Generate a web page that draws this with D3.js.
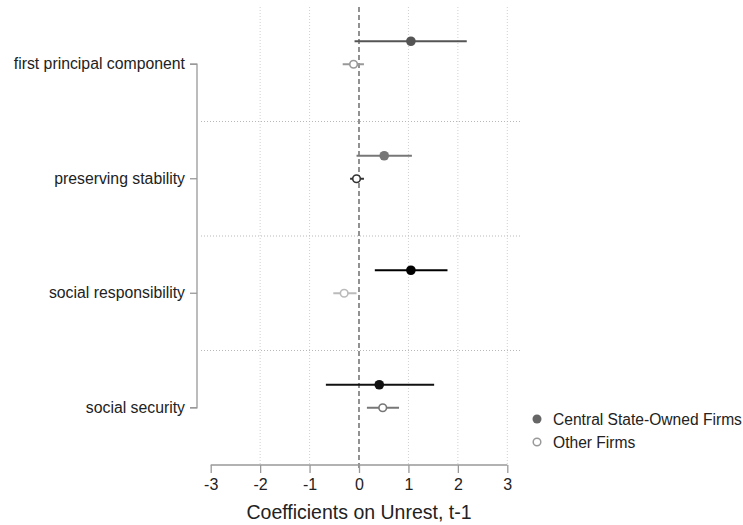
<!DOCTYPE html>
<html>
<head>
<meta charset="utf-8">
<script src="https://cdn.jsdelivr.net/npm/d3@7"></script>
<style>
  body { margin: 0; background: #fff; font-family: Arial, "Liberation Sans", sans-serif; }
</style>
</head>
<body>
<div id="chart"></div>
<script>
// outcome categories, top to bottom
const outcomes = ["first principal component", "preserving stability", "social responsibility", "social security"];

// Central State-Owned Firms: estimate, lower CI, upper CI
const centralCoef = [1.05, 0.51, 1.05, 0.41];
const centralLo = [-0.09, -0.05, 0.32, -0.67];
const centralHi = [2.18, 1.07, 1.79, 1.52];

// Other Firms
const otherCoef = [-0.11, -0.05, -0.30, 0.48];
const otherLo = [-0.33, -0.18, -0.52, 0.16];
const otherHi = [0.10, 0.10, -0.05, 0.81];

// shades per outcome (as in the original figure)
const centralColor = ["#555555", "#777777", "#000000", "#111111"];
const otherColor = ["#999999", "#333333", "#bbbbbb", "#777777"];

const xTicks = [-3, -2, -1, 0, 1, 2, 3];
const legendLabels = ["Central State-Owned Firms", "Other Firms"];

const W = 743, H = 525;
const svg = d3.select("#chart").append("svg").attr("width", W).attr("height", H);

const x = d3.scaleLinear().domain([-3, 3]).range([210.7, 507.3]);
const y = d3.scaleBand().domain(outcomes).range([7, 465]);
const mid = d => y(d) + y.bandwidth() / 2;
const plotLeft = 201, plotRight = 520;

// vertical dotted grid
svg.append("g")
  .selectAll("line")
  .data(xTicks.filter(t => t !== 0 && t !== -3))
  .join("line")
  .attr("x1", d => x(d)).attr("x2", d => x(d))
  .attr("y1", 7).attr("y2", 465)
  .attr("stroke", "#d0d0d0").attr("stroke-width", 1)
  .attr("stroke-dasharray", "1,2");

// horizontal separators between outcomes
svg.append("g")
  .selectAll("line")
  .data(outcomes.slice(1))
  .join("line")
  .attr("x1", plotLeft).attr("x2", plotRight)
  .attr("y1", d => y(d)).attr("y2", d => y(d))
  .attr("stroke", "#b8b8b8").attr("stroke-width", 1)
  .attr("stroke-dasharray", "1,2");

// zero reference line
svg.append("line")
  .attr("x1", x(0)).attr("x2", x(0))
  .attr("y1", 7).attr("y2", 470)
  .attr("stroke", "#777").attr("stroke-width", 1.6)
  .attr("stroke-dasharray", "5,3");

// x axis
const xAxis = svg.append("g")
  .attr("transform", "translate(0,465)")
  .call(d3.axisBottom(x).tickValues(xTicks).tickSize(8).tickPadding(6).tickFormat(d => String(d)));
xAxis.select(".domain").attr("stroke", "#999").attr("stroke-width", 1.3).attr("d", `M${x(-3)},0H${x(3)}`);
xAxis.selectAll(".tick line").attr("stroke", "#999").attr("stroke-width", 1.3);
xAxis.selectAll("text").attr("fill", "#222").style("font-size", "16px").style("font-family", "Arial, 'Liberation Sans', sans-serif");

svg.append("text")
  .attr("x", x(0)).attr("y", 519)
  .attr("text-anchor", "middle")
  .attr("fill", "#222")
  .style("font-size", "19.5px")
  .text("Coefficients on Unrest, t-1");

// y axis (bracket style)
const yAxis = svg.append("g")
  .attr("transform", "translate(197,0)")
  .call(d3.axisLeft(y).tickSize(7).tickPadding(5));
yAxis.select(".domain").attr("stroke", "#999").attr("stroke-width", 1.3)
  .attr("d", `M-7,${mid(outcomes[0])}H0V${mid(outcomes[3])}H-7`);
yAxis.selectAll(".tick line").attr("stroke", "#999").attr("stroke-width", 1.3);
yAxis.selectAll("text").attr("fill", "#222").style("font-size", "15.8px").style("font-family", "Arial, 'Liberation Sans', sans-serif");

// confidence intervals and estimates
const rows = outcomes.map((o, i) => ({ o, i }));
const off = 23;

svg.append("g").selectAll("line").data(rows).join("line")
  .attr("x1", d => x(centralLo[d.i])).attr("x2", d => x(centralHi[d.i]))
  .attr("y1", d => mid(d.o) - off).attr("y2", d => mid(d.o) - off)
  .attr("stroke", d => centralColor[d.i]).attr("stroke-width", 2);

svg.append("g").selectAll("circle").data(rows).join("circle")
  .attr("cx", d => x(centralCoef[d.i])).attr("cy", d => mid(d.o) - off)
  .attr("r", 4.8)
  .attr("fill", d => centralColor[d.i]);

svg.append("g").selectAll("line").data(rows).join("line")
  .attr("x1", d => x(otherLo[d.i])).attr("x2", d => x(otherHi[d.i]))
  .attr("y1", d => mid(d.o)).attr("y2", d => mid(d.o))
  .attr("stroke", d => otherColor[d.i]).attr("stroke-width", 2);

svg.append("g").selectAll("circle").data(rows).join("circle")
  .attr("cx", d => x(otherCoef[d.i])).attr("cy", d => mid(d.o))
  .attr("r", 3.8)
  .attr("fill", "#fff")
  .attr("stroke", d => otherColor[d.i]).attr("stroke-width", 1.6);

// legend
const legend = svg.append("g").attr("transform", "translate(537,419)");
legend.append("circle").attr("cx", 0).attr("cy", 0).attr("r", 4.5).attr("fill", "#666");
legend.append("circle").attr("cx", 0).attr("cy", 23).attr("r", 3.8)
  .attr("fill", "#fff").attr("stroke", "#999").attr("stroke-width", 1.5);
legend.selectAll("text").data(legendLabels).join("text")
  .attr("x", 16).attr("y", (d, i) => i * 23 + 5.5)
  .attr("fill", "#222")
  .style("font-size", "15.6px")
  .text(d => d);
</script>
</body>
</html>
